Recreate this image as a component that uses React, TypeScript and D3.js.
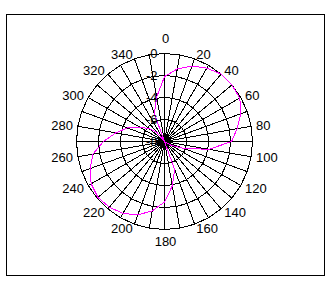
import React from "react";
import * as d3 from "d3";

const categories = [
  "0", "10", "20", "30", "40", "50", "60", "70", "80", "90", "100", "110",
  "120", "130", "140", "150", "160", "170", "180", "190", "200", "210", "220", "230",
  "240", "250", "260", "270", "280", "290", "300", "310", "320", "330", "340", "350",
];
const values = [
  -2.1, -1.3, -0.7, -0.3, 0, 0, -0.1, -0.6, -1.3, -1.9, -3.9, -6.2,
  -7.3, -8, -8, -8, -5.3, -3.9, -2.5, -1.6, -0.9, -0.45, -0.2, -0.1,
  -0.3, -0.8, -1.4, -2.45, -3.5, -4.4, -5.4, -6.2, -6.9, -8, -5.3, -3.9,
];
const radialTicks = [-8, -6, -4, -2, 0];

const W = 333;
const H = 282;
const cx = 164;
const cy = 141;
const R = 88;
const FONT = "Arial, 'Liberation Sans', sans-serif";

export default function App() {
  const r = d3.scaleLinear().domain([-8, 0]).range([0, R]).clamp(true);
  const n = categories.length;
  const ang = d3.scaleLinear().domain([0, n]).range([0, 2 * Math.PI]);

  const ringPath = d3
    .lineRadial<number>()
    .angle((_, i) => ang(i))
    .radius((d) => r(d))
    .curve(d3.curveLinearClosed);

  const dataPath = d3
    .lineRadial<number>()
    .angle((_, i) => ang(i))
    .radius((d) => r(d))
    .curve(d3.curveLinearClosed);

  return (
    <svg
      width={W}
      height={H}
      style={{ position: "absolute", left: 0, top: 0, background: "#fff" }}
    >
      <rect x={0} y={0} width={W} height={H} fill="#fff" />
      <rect
        x={6.5}
        y={14.5}
        width={318}
        height={261}
        fill="none"
        stroke="#000"
        strokeWidth={1}
        shapeRendering="crispEdges"
      />
      <g transform={`translate(${cx + 0.5},${cy + 0.5})`}>
        {radialTicks
          .filter((t) => t > -8)
          .map((t) => (
            <path
              key={"ring" + t}
              d={ringPath(categories.map(() => t)) || ""}
              fill="none"
              stroke="#000"
              strokeWidth={1}
              shapeRendering="crispEdges"
            />
          ))}
        {categories.map((c, i) => {
          const a = ang(i);
          return (
            <line
              key={"sp" + c}
              x1={0}
              y1={0}
              x2={R * Math.sin(a)}
              y2={-R * Math.cos(a)}
              stroke="#000"
              strokeWidth={1}
              shapeRendering="crispEdges"
            />
          );
        })}
        <path
          d={dataPath(values) || ""}
          fill="none"
          stroke="#ff00ff"
          strokeWidth={1}
          shapeRendering="crispEdges"
        />
        {radialTicks.map((t) => (
          <text
            key={"rt" + t}
            x={-7}
            y={-r(t) + 4.5}
            textAnchor="end"
            fontFamily={FONT}
            fontSize={13}
            fill="#000"
          >
            {t}
          </text>
        ))}
        {categories.map((c, i) => {
          if (i % 2 !== 0) return null;
          const a = ang(i);
          const s = Math.sin(a);
          const co = Math.cos(a);
          let x: number, y: number, anchor: string;
          if (i === 0) {
            x = 1;
            y = -103 + 4.5;
            anchor = "middle";
          } else if (i === n / 2) {
            x = 1;
            y = 100 + 4.5;
            anchor = "middle";
          } else {
            x = 93 * s;
            y = -93 * co + 4.5;
            anchor = s > 0 ? "start" : "end";
          }
          return (
            <text
              key={"cl" + c}
              x={x}
              y={y}
              textAnchor={anchor}
              fontFamily={FONT}
              fontSize={13}
              fill="#000"
            >
              {c}
            </text>
          );
        })}
      </g>
    </svg>
  );
}
